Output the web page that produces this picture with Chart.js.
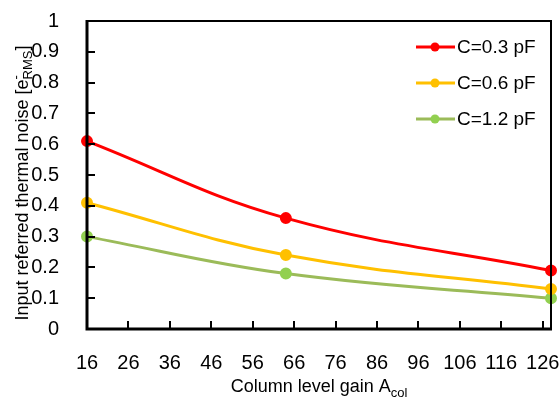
<!DOCTYPE html>
<html>
<head>
<meta charset="utf-8">
<script src="https://cdn.jsdelivr.net/npm/chart.js@4.4.1/dist/chart.umd.min.js"></script>
<style>
  html, body { margin: 0; padding: 0; background: #fff; }
  #wrap { width: 560px; height: 403px; }
</style>
</head>
<body>
<div id="wrap"><canvas id="noiseChart" width="560" height="403"></canvas></div>
<script>
// ------------------ Dados ------------------
const gains = [16, 64, 128];
const noise03 = [0.61, 0.36, 0.19];
const noise06 = [0.41, 0.24, 0.13];
const noise12 = [0.30, 0.18, 0.10];
const seriesLabels = ['C=0.3 pF', 'C=0.6 pF', 'C=1.2 pF'];
const xTicks = [16, 26, 36, 46, 56, 66, 76, 86, 96, 106, 116, 126];
const yTicks = [0, 0.1, 0.2, 0.3, 0.4, 0.5, 0.6, 0.7, 0.8, 0.9, 1];

const FONT = '"Liberation Sans", Arial, sans-serif';

function serie(label, values, lineColor, dotColor) {
    return {
        label: label,
        data: gains.map((g, i) => ({ x: g, y: values[i] })),
        borderColor: lineColor,
        backgroundColor: dotColor,
        pointBackgroundColor: dotColor,
        pointBorderColor: dotColor,
        borderWidth: 3,
        pointRadius: 4.5,
        tension: 0.4,
        clip: false
    };
}

// ------------------ Moldura, ticks internos, legenda e títulos ------------------
const frame = {
    id: 'frame',
    afterDraw(chart) {
        const ctx = chart.ctx;
        const a = chart.chartArea;
        const xs = chart.scales.x, ys = chart.scales.y;
        ctx.save();
        ctx.strokeStyle = '#000';
        ctx.lineWidth = 2;
        ctx.beginPath();
        ctx.moveTo(a.left, a.top);
        ctx.lineTo(a.right, a.top);
        ctx.lineTo(a.right, a.bottom);
        ctx.stroke();
        ctx.lineWidth = 3;
        ctx.beginPath();
        ctx.moveTo(a.left, a.top - 1);
        ctx.lineTo(a.left, a.bottom);
        ctx.lineTo(a.right + 1, a.bottom);
        ctx.stroke();
        ctx.lineWidth = 2;
        yTicks.forEach(v => {
            const y = Math.round(ys.getPixelForValue(v));
            ctx.beginPath();
            ctx.moveTo(a.left, y);
            ctx.lineTo(a.left + 8, y);
            ctx.stroke();
        });
        xTicks.forEach(v => {
            const x = Math.round(xs.getPixelForValue(v));
            ctx.beginPath();
            ctx.moveTo(x, a.bottom);
            ctx.lineTo(x, a.bottom - 8);
            ctx.stroke();
        });

        // legenda
        ctx.font = '19px ' + FONT;
        ctx.textBaseline = 'middle';
        ctx.textAlign = 'left';
        chart.data.datasets.forEach((ds, i) => {
            const y = 47 + i * 36;
            ctx.strokeStyle = ds.borderColor;
            ctx.lineWidth = 3;
            ctx.beginPath();
            ctx.moveTo(416, y);
            ctx.lineTo(455, y);
            ctx.stroke();
            ctx.fillStyle = ds.pointBackgroundColor;
            ctx.beginPath();
            ctx.arc(435, y, 4.5, 0, Math.PI * 2);
            ctx.fill();
            ctx.fillStyle = '#000';
            ctx.fillText(ds.label, 457, y + 1);
        });

        // título do eixo x: Column level gain A_col
        ctx.fillStyle = '#000';
        ctx.textBaseline = 'alphabetic';
        const base = 'Column level gain A';
        ctx.font = '18px ' + FONT;
        const w1 = ctx.measureText(base).width;
        ctx.font = '13px ' + FONT;
        const w2 = ctx.measureText('col').width;
        let x0 = 319 - (w1 + w2) / 2;
        ctx.font = '18px ' + FONT;
        ctx.fillText(base, x0, 392);
        ctx.font = '13px ' + FONT;
        ctx.fillText('col', x0 + w1, 397);

        // título do eixo y: Input referred thermal noise [e-RMS]
        ctx.translate(28, 183);
        ctx.rotate(-Math.PI / 2);
        const p1 = 'Input referred thermal noise [e';
        const p3 = ']';
        ctx.font = '18px ' + FONT;
        const a1 = ctx.measureText(p1).width;
        const a3 = ctx.measureText(p3).width;
        ctx.font = '13px ' + FONT;
        const a2 = ctx.measureText('RMS').width;
        let sx = -(a1 + a2 + a3) / 2;
        ctx.font = '18px ' + FONT;
        ctx.fillText(p1, sx, 0);
        ctx.font = '13px ' + FONT;
        ctx.fillText('-', sx + a1, -8);
        ctx.fillText('RMS', sx + a1, 4);
        ctx.font = '18px ' + FONT;
        ctx.fillText(p3, sx + a1 + a2, 0);
        ctx.restore();
    }
};

// ------------------ Gráfico ------------------
const ctx = document.getElementById('noiseChart').getContext('2d');
const noiseChart = new Chart(ctx, {
    type: 'line',
    data: {
        datasets: [
            serie(seriesLabels[0], noise03, '#FF0000', '#FF0000'),
            serie(seriesLabels[1], noise06, '#FFC000', '#FFC000'),
            serie(seriesLabels[2], noise12, '#9BBB59', '#92D050')
        ]
    },
    options: {
        responsive: false,
        animation: false,
        layout: { padding: { left: 0, top: 21, right: 9, bottom: 0 } },
        plugins: { legend: { display: false }, tooltip: { enabled: false } },
        scales: {
            x: {
                type: 'linear',
                min: 16,
                max: 128,
                afterBuildTicks: s => { s.ticks = xTicks.map(v => ({ value: v })); },
                afterFit: s => { s.height = 74; s.paddingLeft = 0; s.paddingRight = 0; },
                grid: { display: false },
                border: { display: false },
                ticks: { color: '#000', font: { family: FONT, size: 20 }, padding: 14, maxRotation: 0, autoSkip: false, callback: v => String(v) }
            },
            y: {
                min: 0,
                max: 1,
                afterBuildTicks: s => { s.ticks = yTicks.map(v => ({ value: v })); },
                afterFit: s => { s.width = 87; s.paddingTop = 0; s.paddingBottom = 0; },
                grid: { display: false },
                border: { display: false },
                ticks: { color: '#000', font: { family: FONT, size: 20 }, padding: 20, callback: v => String(v) }
            }
        }
    },
    plugins: [frame]
});
</script>
</body>
</html>
